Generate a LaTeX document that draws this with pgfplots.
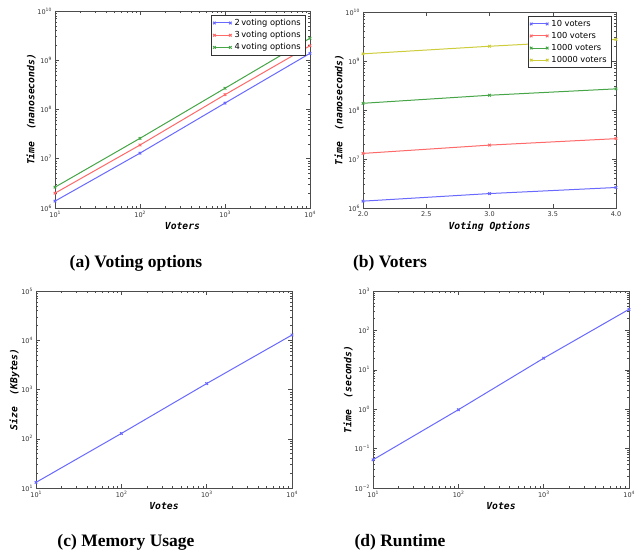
\documentclass[border=0pt]{standalone}
\usepackage{fontspec}
\setmainfont{Liberation Serif}
\newfontfamily\tickfont{DejaVu Sans}
\newfontfamily\labfont{DejaVu Sans Mono}
\usepackage{pgfplots}
\pgfplotsset{compat=1.18}
\definecolor{mb}{RGB}{105,105,255}
\definecolor{mr}{RGB}{255,105,105}
\definecolor{mg}{RGB}{70,165,70}
\definecolor{my}{RGB}{205,205,60}
\newcommand\logtick{\pgfmathtruncatemacro\e{round(\tick)}10\raisebox{3pt}{\fontsize{4.5}{5}\selectfont\ifnum\e<0 −\the\numexpr-\e\relax\else\e\fi}}
\pgfplotsset{
  myax/.style={
    scale only axis,
    axis line style={black!70, line width=0.8pt},
    tick style={black!70, line width=0.5pt},
    major tick length=4pt, minor tick length=2pt,
    tick label style={font=\tickfont\fontsize{6.5}{7}\selectfont, text=black!80},
    label style={font=\labfont\bfseries\itshape\fontsize{9.7}{11}\selectfont},
    ylabel style={yshift=-5pt},
    xlabel style={yshift=2pt},
    /pgf/number format/assume math mode=true,
    every axis plot/.append style={line width=1pt, mark=x, mark size=1.8pt, mark options={solid}},
    legend style={font=\tickfont\fontsize{8.3}{9}\selectfont, draw=black!80, line width=0.8pt,
      at={(1,1)}, anchor=north east, xshift=-4pt, yshift=-4pt,
      inner xsep=2pt, inner ysep=1.5pt, nodes={inner xsep=3pt, inner ysep=2.2pt}},
    legend cell align=left,
    legend image code/.code={\draw[##1] plot coordinates {(0pt,0pt) (16pt,0pt)};},
  },
}
\begin{document}
\begin{tikzpicture}
\useasboundingbox (0,0) rectangle (640pt,-556pt);
% (a)
\begin{axis}[myax, xmode=log, ymode=log, log basis x=10, log basis y=10,
  xticklabel={\logtick}, yticklabel={\logtick},
  at={(55pt,-11pt)}, anchor=north west, width=255pt, height=197pt,
  xmin=10, xmax=10000, ymin=1e6, ymax=1e10,
  xlabel={Voters}, ylabel={Time\ \ (nanoseconds)}]
\addplot[mb] coordinates {(10,1.38e6) (100,1.3e7) (1000,1.35e8) (10000,1.38e9)};
\addlegendentry{2\,voting options}
\addplot[mr] coordinates {(10,2.0e6) (100,1.9e7) (1000,2.0e8) (10000,1.97e9)};
\addlegendentry{3\,voting options}
\addplot[mg] coordinates {(10,2.65e6) (100,2.6e7) (1000,2.7e8) (10000,2.8e9)};
\addlegendentry{4\,voting options}
\end{axis}
% (b)
\begin{axis}[myax, ymode=log, log basis y=10, yticklabel={\logtick},
  at={(363pt,-12pt)}, anchor=north west, width=253pt, height=196pt,
  xmin=2, xmax=4, ymin=1e6, ymax=1e10,
  xtick={2,2.5,3,3.5,4},
  xticklabel style={/pgf/number format/.cd, fixed, precision=1, fixed zerofill},
  xlabel={Voting Options}, ylabel={Time\ \ (nanoseconds)}]
\addplot[mb] coordinates {(2,1.38e6) (3,1.97e6) (4,2.62e6)};
\addlegendentry{10 voters}
\addplot[mr] coordinates {(2,1.3e7) (3,1.92e7) (4,2.6e7)};
\addlegendentry{100 voters}
\addplot[mg] coordinates {(2,1.37e8) (3,2.0e8) (4,2.7e8)};
\addlegendentry{1000 voters}
\addplot[my] coordinates {(2,1.4e9) (3,2.0e9) (4,2.75e9)};
\addlegendentry{10000 voters}
\end{axis}
% (c)
\begin{axis}[myax, xmode=log, ymode=log, log basis x=10, log basis y=10,
  xticklabel={\logtick}, yticklabel={\logtick},
  at={(36pt,-291pt)}, anchor=north west, width=256pt, height=197pt,
  xmin=10, xmax=10000, ymin=10, ymax=1e5,
  xlabel={Votes}, ylabel={Size\ \ (KBytes)}]
\addplot[mb] coordinates {(10,13) (100,128) (1000,1320) (10000,12800)};
\end{axis}
% (d)
\begin{axis}[myax, xmode=log, ymode=log, log basis x=10, log basis y=10,
  xticklabel={\logtick}, yticklabel={\logtick},
  at={(373pt,-291pt)}, anchor=north west, width=256pt, height=197pt,
  xmin=10, xmax=10000, ymin=0.01, ymax=1000,
  xlabel={Votes}, ylabel={Time\ \ (seconds)}]
\addplot[mb] coordinates {(10,0.052) (100,0.97) (1000,19.7) (10000,343)};
\end{axis}
\begin{scope}[every node/.style={font=\bfseries\fontsize{17.5}{20}\selectfont}]
\node at (136pt,-263pt) {(a) Voting options};
\node at (390pt,-263pt) {(b) Voters};
\node at (126pt,-542pt) {(c) Memory Usage};
\node at (400pt,-542pt) {(d) Runtime};
\end{scope}
\end{tikzpicture}
\end{document}
